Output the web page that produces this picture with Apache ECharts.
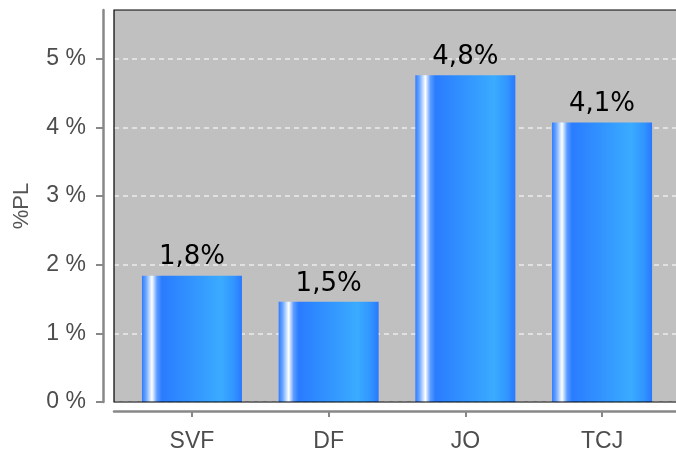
<!DOCTYPE html>
<html>
<head>
<meta charset="utf-8">
<script src="https://cdn.jsdelivr.net/npm/echarts@6/dist/echarts.min.js"></script>
<style>
html,body{margin:0;padding:0;background:#fff;}
#c{width:676px;height:453px;}
</style>
</head>
<body>
<div id="c"></div>
<script>
const categories = ['SVF', 'DF', 'JO', 'TCJ'];
const values = [1.84, 1.46, 4.76, 4.07];
const yTicks = [0, 1, 2, 3, 4, 5];
const yAxisTitle = '%PL';

const Y_MAX = 5.71;
const barGradient = new echarts.graphic.LinearGradient(0, 0, 1, 0, [
  { offset: 0, color: '#2d7cff' },
  { offset: 0.04, color: '#6aa6ff' },
  { offset: 0.10, color: '#ffffff' },
  { offset: 0.15, color: '#5c9cff' },
  { offset: 0.20, color: '#2a7cff' },
  { offset: 0.79, color: '#3aabff' },
  { offset: 0.92, color: '#3195ff' },
  { offset: 1, color: '#2a78ff' }
]);

const FONT = '"Liberation Sans", Arial, sans-serif';
const chart = echarts.init(document.getElementById('c'), null, { renderer: 'canvas' });
chart.setOption({
  animation: false,
  backgroundColor: '#ffffff',
  grid: [
    { left: 114, top: 10, width: 570, height: 392, show: true, backgroundColor: '#c0c0c0', borderWidth: 0, outerBoundsMode: 'none', containLabel: false, z: 0 },
    { left: 123.6, top: 10, width: 546.8, height: 392, outerBoundsMode: 'none', containLabel: false },
    { left: 114, top: 10, width: 570, height: 392, show: true, backgroundColor: 'transparent', borderColor: '#000000', borderWidth: 1.2, outerBoundsMode: 'none', containLabel: false, z: 5 }
  ],
  xAxis: [
    { gridIndex: 0, type: 'value', min: 0, max: 1, offset: 9,
      axisLine: { show: true, onZero: false, lineStyle: { color: '#888888', width: 2.5 } },
      axisTick: { show: false }, axisLabel: { show: false }, splitLine: { show: false } },
    { gridIndex: 1, type: 'category', data: categories, offset: 9,
      axisLine: { show: false, onZero: false },
      axisTick: { show: true, alignWithLabel: true, length: 6, lineStyle: { color: '#888888', width: 2 } },
      axisLabel: { color: '#4d4d4d', fontSize: 23, fontFamily: FONT, margin: 19 },
      splitLine: { show: false } },
    { gridIndex: 2, type: 'value', min: 0, max: 1, show: false }
  ],
  yAxis: [
    { gridIndex: 0, type: 'value', min: 0, max: Y_MAX,
      axisLine: { show: false },
      axisTick: { show: false, customValues: yTicks },
      axisLabel: { show: false, customValues: yTicks },
      splitLine: { show: true, lineStyle: { color: '#ececec', type: [5, 4], width: 1.5 } } },
    { gridIndex: 1, type: 'value', min: 0, max: Y_MAX, offset: 20.6,
      name: yAxisTitle, nameLocation: 'middle', nameGap: 70,
      nameTextStyle: { color: '#555555', fontSize: 22, fontFamily: FONT },
      axisLine: { show: true, onZero: false, lineStyle: { color: '#888888', width: 2.5 } },
      axisTick: { show: true, length: 7, customValues: yTicks, lineStyle: { color: '#888888', width: 2 } },
      axisLabel: { color: '#4d4d4d', fontSize: 23, fontFamily: FONT, margin: 17, customValues: yTicks,
        formatter: v => v + ' %' },
      splitLine: { show: false } },
    { gridIndex: 2, type: 'value', min: 0, max: 1, show: false }
  ],
  series: [{
    type: 'bar',
    xAxisIndex: 1, yAxisIndex: 1,
    data: values,
    barWidth: 100,
    itemStyle: { color: barGradient },
    label: {
      show: true, position: 'top', distance: 5,
      color: '#000000', fontSize: 26, fontFamily: '"DejaVu Sans", sans-serif',
      formatter: p => p.value.toFixed(1).replace('.', ',') + '%'
    }
  }]
});
</script>
</body>
</html>
